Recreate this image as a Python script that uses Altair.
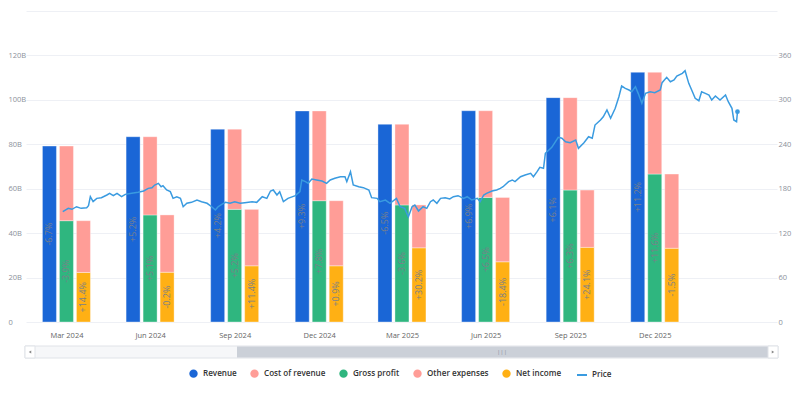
import altair as alt
import pandas as pd

# ---------------- data ----------------
quarters = ["2024-03-31", "2024-06-30", "2024-09-30", "2024-12-31",
            "2025-03-31", "2025-06-30", "2025-09-30", "2025-12-31"]
revenue = [79.2, 83.4, 86.8, 95.0, 89.0, 95.1, 101.0, 112.4]
gross_profit = [45.6, 48.2, 50.7, 54.6, 52.7, 56.1, 59.4, 66.6]
net_income = [22.3, 22.4, 25.3, 25.3, 33.4, 27.1, 33.6, 33.2]
revenue_chg = ["-6.7%", "+5.2%", "+4.2%", "+9.3%", "-6.5%", "+6.9%", "+6.1%", "+11.2%"]
gross_chg = ["-3.9%", "+5.1%", "+5.2%", "+7.8%", "-3.6%", "+6.5%", "+6.3%", "+11.6%"]
net_chg = ["+14.4%", "-0.2%", "+11.4%", "+0.9%", "+30.2%", "-18.4%", "+24.1%", "-1.5%"]

series_names = ["Revenue", "Cost of revenue", "Gross profit", "Other expenses", "Net income"]
series_colors = ["#1a66d6", "#ff9d97", "#2fb67f", "#ff9d97", "#ffb014"]

price_dates = [
    "2024-03-27", "2024-04-02", "2024-04-06", "2024-04-11", "2024-04-16", "2024-04-22", "2024-04-24", "2024-04-26",
    "2024-04-29", "2024-05-03", "2024-05-08", "2024-05-14", "2024-05-17", "2024-05-21", "2024-05-25", "2024-05-30",
    "2024-06-03", "2024-06-10", "2024-06-17", "2024-06-23", "2024-06-28", "2024-07-02", "2024-07-05", "2024-07-09",
    "2024-07-12", "2024-07-14", "2024-07-18", "2024-07-22", "2024-07-25", "2024-07-29", "2024-08-02", "2024-08-05",
    "2024-08-09", "2024-08-14", "2024-08-20", "2024-08-25", "2024-08-31", "2024-09-05", "2024-09-09", "2024-09-12",
    "2024-09-16", "2024-09-20", "2024-09-25", "2024-09-30", "2024-10-06", "2024-10-11", "2024-10-19", "2024-10-24",
    "2024-10-30", "2024-11-04", "2024-11-08", "2024-11-11", "2024-11-15", "2024-11-18", "2024-11-22", "2024-11-27",
    "2024-12-05", "2024-12-10", "2024-12-12", "2024-12-16", "2024-12-19", "2024-12-23", "2024-12-28",
    "2025-01-03", "2025-01-08", "2025-01-12", "2025-01-17", "2025-01-23", "2025-01-28", "2025-01-30",
    "2025-02-03", "2025-02-06", "2025-02-12", "2025-02-17", "2025-02-23", "2025-02-26",
    "2025-03-04", "2025-03-07", "2025-03-13", "2025-03-18", "2025-03-25", "2025-03-29",
    "2025-04-03", "2025-04-07", "2025-04-11", "2025-04-14", "2025-04-18", "2025-04-23", "2025-04-27",
    "2025-05-01", "2025-05-04", "2025-05-08", "2025-05-12", "2025-05-17", "2025-05-22", "2025-05-26", "2025-05-31",
    "2025-06-06", "2025-06-10", "2025-06-15", "2025-06-21", "2025-06-24", "2025-06-28",
    "2025-07-01", "2025-07-07", "2025-07-12", "2025-07-16", "2025-07-19", "2025-07-25", "2025-07-29",
    "2025-08-01", "2025-08-07", "2025-08-12", "2025-08-18", "2025-08-21", "2025-08-25", "2025-08-28",
    "2025-09-01", "2025-09-03", "2025-09-06", "2025-09-10", "2025-09-14", "2025-09-17", "2025-09-21", "2025-09-25",
    "2025-09-30", "2025-10-06", "2025-10-09", "2025-10-15", "2025-10-20", "2025-10-24", "2025-10-27",
    "2025-11-02", "2025-11-05", "2025-11-09", "2025-11-13", "2025-11-18", "2025-11-22", "2025-11-25", "2025-11-29",
    "2025-12-03", "2025-12-06", "2025-12-10", "2025-12-13", "2025-12-17", "2025-12-21", "2025-12-26", "2025-12-31",
    "2026-01-06", "2026-01-08", "2026-01-13", "2026-01-17", "2026-01-21", "2026-01-24", "2026-01-30",
    "2026-02-02", "2026-02-06", "2026-02-10", "2026-02-13", "2026-02-17", "2026-02-20", "2026-02-24", "2026-02-28",
    "2026-03-03", "2026-03-07", "2026-03-12", "2026-03-18", "2026-03-21", "2026-03-25", "2026-03-27", "2026-03-30",
    "2026-03-31"]
price_values = [
    149.0, 153.5, 152.2, 155.7, 153.5, 154.4, 157.1, 169.2, 162.5, 167.0,
    167.9, 171.5, 173.8, 170.6, 173.8, 169.2, 172.4, 173.8, 175.1, 176.9,
    180.5, 181.4, 185.0, 187.3, 182.7, 184.1, 178.3, 176.0, 167.0, 169.2,
    167.0, 155.7, 160.3, 161.6, 164.7, 162.5, 160.3, 155.7, 151.2, 155.7,
    158.9, 161.6, 160.3, 162.5, 160.3, 161.1, 162.5, 161.6, 169.2, 167.0,
    176.9, 178.3, 171.5, 176.0, 162.5, 167.0, 170.6, 176.0, 191.8, 189.5,
    187.3, 193.1, 191.8, 190.4, 187.3, 191.8, 194.1, 196.2, 196.2, 189.5,
    203.0, 185.0, 182.7, 181.4, 178.3, 167.9, 167.0, 162.5, 164.7, 160.3,
    167.0, 155.7, 153.5, 142.2, 155.7, 158.0, 149.9, 155.7, 153.5, 162.5,
    164.7, 160.3, 167.0, 167.9, 166.1, 169.2, 170.6, 167.0, 169.2, 164.7,
    167.0, 162.5, 171.5, 173.8, 176.9, 178.3, 180.5, 182.7, 189.5, 191.8,
    189.5, 196.2, 198.5, 200.8, 196.2, 203.0, 208.9, 207.6, 227.8, 231.3,
    235.9, 243.5, 249.4, 248.1, 243.5, 242.1, 245.8, 234.6, 242.1, 250.2,
    248.1, 266.0, 272.8, 277.2, 286.3, 275.1, 288.6, 304.2, 318.7, 315.6,
    313.3, 311.0, 317.8, 308.8, 295.3, 308.8, 311.0, 309.7, 313.3, 323.2,
    330.4, 324.5, 326.8, 332.2, 335.8, 339.4, 322.3, 311.0, 302.1, 298.8,
    311.0, 308.8, 306.5, 299.8, 305.2, 299.8, 306.5, 297.5, 288.6, 272.8,
    270.5, 284.0]

# ---------------- tables ----------------
bar_rows = []
label_rows = []
for q, r, g, n, rc, gc, nc in zip(quarters, revenue, gross_profit, net_income,
                                  revenue_chg, gross_chg, net_chg):
    bar_rows += [
        {"date": q, "series": "Revenue", "slot": "a", "lo": 0, "hi": r},
        {"date": q, "series": "Gross profit", "slot": "b", "lo": 0, "hi": g},
        {"date": q, "series": "Cost of revenue", "slot": "b", "lo": g, "hi": r},
        {"date": q, "series": "Net income", "slot": "c", "lo": 0, "hi": n},
        {"date": q, "series": "Other expenses", "slot": "c", "lo": n, "hi": g},
    ]
    label_rows += [
        {"date": q, "slot": "a", "val": r, "txt": rc},
        {"date": q, "slot": "b", "val": g, "txt": gc},
        {"date": q, "slot": "c", "val": n, "txt": nc},
    ]
bars_df = pd.DataFrame(bar_rows)
labels_df = pd.DataFrame(label_rows)
price_df = pd.DataFrame({"date": price_dates, "price": price_values, "series": "Price"})
last_df = price_df.tail(1)

FONT = "Open Sans"


def dt(s):
    y, m, d = (int(v) for v in s.split("-"))
    return alt.DateTime(year=y, month=m, date=d, utc=True)


x_scale = alt.Scale(type="utc", domain=[dt("2024-02-16"), dt("2026-05-13")], nice=False, padding=0)
x_axis = alt.Axis(values=[dt(q) for q in quarters], format="%b %Y", title=None,
                  grid=False, domain=False, ticks=False, tickSize=0, labelPadding=9,
                  labelFontSize=7.5, labelColor="#666666", labelFont=FONT)
x_enc = alt.X("date:T", scale=x_scale, axis=x_axis)

yl_scale = alt.Scale(domain=[0, 140], nice=False)
yl_axis = alt.Axis(values=[0, 20, 40, 60, 80, 100, 120, 140], title=None,
                   labelExpr="datum.value == 0 ? '0' : (datum.value >= 140 ? '' : datum.value + 'B')",
                   orient="left", labelAlign="left", labelPadding=18, ticks=False, tickSize=0,
                   domain=False, gridColor="#eef0f5", gridWidth=1, labelFontSize=7.5,
                   labelColor="#8a909a", labelFont=FONT)

yr_scale = alt.Scale(domain=[0, 420], nice=False)
yr_axis = alt.Axis(values=[0, 60, 120, 180, 240, 300, 360], title=None, orient="right",
                   labelPadding=1, ticks=False, tickSize=0, domain=False, grid=False,
                   labelFontSize=7.5, labelColor="#8a909a", labelFont=FONT)

fill_legend = alt.Legend(title=None, orient="none", legendX=163, legendY=358,
                         direction="horizontal", symbolType="circle", symbolSize=70,
                         symbolStrokeWidth=0, labelFontSize=8.1, labelFont=FONT,
                         labelFontWeight=600, labelColor="#333333", columnPadding=13,
                         labelOffset=5)
fill_enc = alt.Fill("series:N", scale=alt.Scale(domain=series_names, range=series_colors),
                    legend=fill_legend)

offsets = {"a": -17, "b": 0, "c": 17}

bar_layers = []
for slot, off in offsets.items():
    bar_layers.append(
        alt.Chart(bars_df).transform_filter(alt.datum.slot == slot)
        .mark_bar(width=14, xOffset=off, stroke="white", strokeWidth=0.8, strokeOpacity=0.45)
        .encode(x=x_enc, y=alt.Y("hi:Q", scale=yl_scale, axis=yl_axis), y2="lo:Q", fill=fill_enc)
    )

text_layers = []
for slot, off in offsets.items():
    text_layers.append(
        alt.Chart(labels_df).transform_filter(alt.datum.slot == slot)
        .transform_calculate(mid="datum.val / 2")
        .mark_text(angle=270, xOffset=off, fontSize=9, font=FONT, color="#7b8089",
                   align="center", baseline="middle")
        .encode(x=x_enc, y=alt.Y("mid:Q", scale=yl_scale, axis=yl_axis), text="txt:N")
    )

left = alt.layer(*bar_layers, *text_layers)

price_legend = alt.Legend(title=None, orient="none", legendX=550, legendY=358,
                          symbolType="stroke", symbolSize=100, symbolStrokeWidth=2,
                          labelFontSize=8.1, labelFont=FONT, labelFontWeight=600,
                          labelColor="#333333", labelOffset=4)
stroke_enc = alt.Stroke("series:N", scale=alt.Scale(domain=["Price"], range=["#3a9be0"]),
                        legend=price_legend)

line = alt.Chart(price_df).mark_line(strokeWidth=1.5).encode(
    x=x_enc, y=alt.Y("price:Q", scale=yr_scale, axis=yr_axis), stroke=stroke_enc)
dot = alt.Chart(last_df).mark_circle(size=22, color="#3a9be0", opacity=1).encode(
    x=x_enc, y=alt.Y("price:Q", scale=yr_scale, axis=yr_axis))
right = alt.layer(line, dot)

# ---------------- scrollbar decoration ----------------
one = pd.DataFrame({"k": [0]})
track = alt.Chart(one).mark_rect(fill="#f6f7f9", stroke="#e0e3e8", strokeWidth=1).encode(
    x=alt.value(-1), x2=alt.value(752), y=alt.value(335), y2=alt.value(347))
thumb = alt.Chart(one).mark_rect(fill="#cbd0d8").encode(
    x=alt.value(211), x2=alt.value(742), y=alt.value(335.5), y2=alt.value(346.5))
lbtn = alt.Chart(one).mark_rect(fill="#ffffff", stroke="#e0e3e8", strokeWidth=1).encode(
    x=alt.value(-1), x2=alt.value(9), y=alt.value(335), y2=alt.value(347))
rbtn = alt.Chart(one).mark_rect(fill="#ffffff", stroke="#e0e3e8", strokeWidth=1).encode(
    x=alt.value(742), x2=alt.value(752), y=alt.value(335), y2=alt.value(347))
larrow = alt.Chart(one).mark_point(shape="triangle-left", filled=True, size=8, color="#888888",
                                   opacity=1).encode(x=alt.value(4), y=alt.value(341))
rarrow = alt.Chart(one).mark_point(shape="triangle-right", filled=True, size=8, color="#888888",
                                   opacity=1).encode(x=alt.value(747), y=alt.value(341))
grip = alt.Chart(one).mark_text(text="|||", fontSize=6, color="#8a8f98", font=FONT).encode(
    x=alt.value(476), y=alt.value(341))
scroll = alt.layer(track, thumb, lbtn, rbtn, larrow, rarrow, grip)

chart = (
    alt.layer(left, right, scroll)
    .resolve_scale(y="independent", fill="independent", stroke="independent")
    .properties(width=751, height=311,
                padding={"left": 18, "top": 3, "right": 15, "bottom": 67},
                autosize=alt.AutoSizeParams(type="none"),
                view=alt.ViewBackground(stroke="transparent", strokeWidth=0, strokeOpacity=0))
    .configure_view(strokeWidth=0, stroke="transparent", strokeOpacity=0)
    .configure_axis(domain=False, domainColor="transparent", domainWidth=0)
    .configure(font=FONT)
)

chart.save("out.html", embed_options={"renderer": "svg", "actions": False})
